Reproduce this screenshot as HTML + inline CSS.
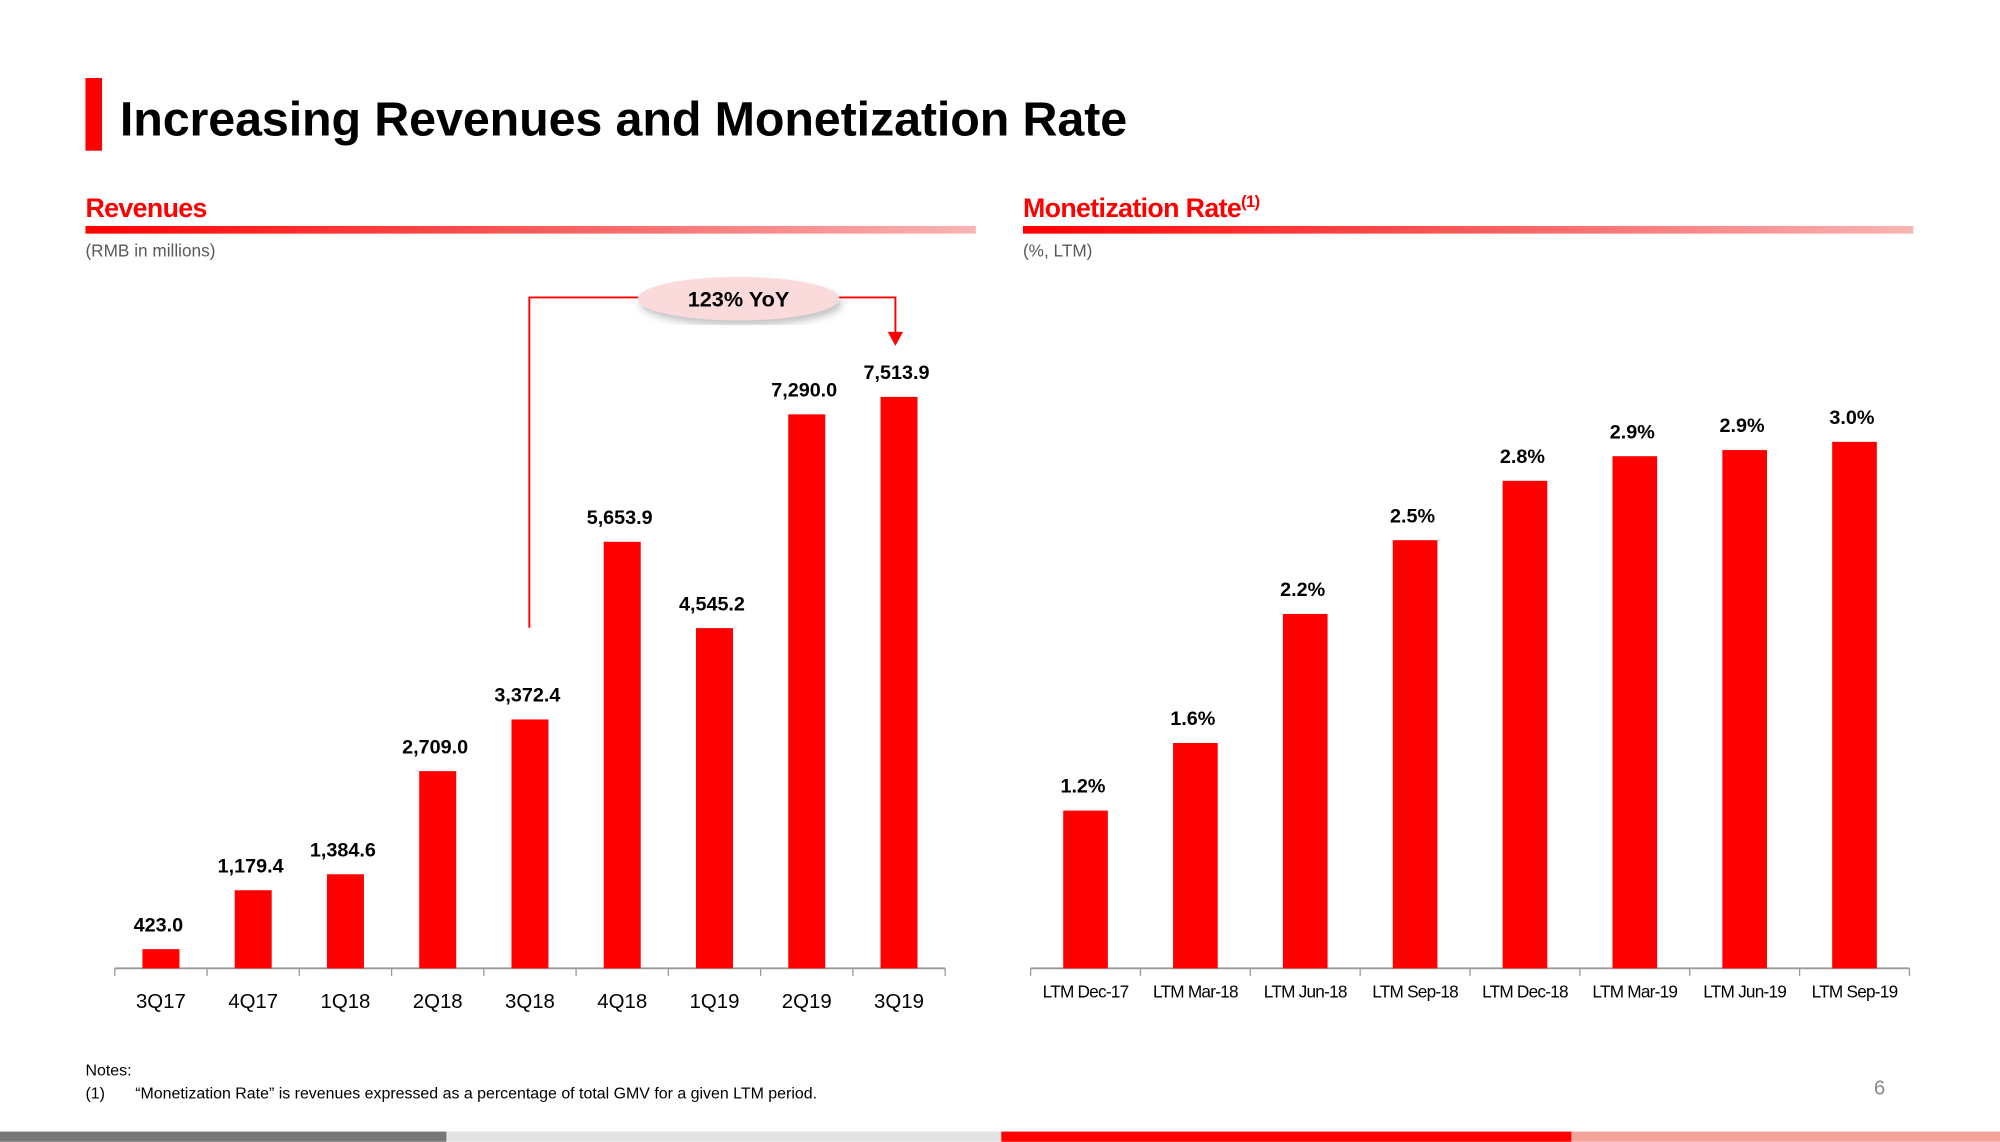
<!DOCTYPE html>
<html><head><meta charset="utf-8"><style>
html,body{margin:0;padding:0;background:#fff}
svg{display:block}
text{font-family:"Liberation Sans",sans-serif}
</style></head><body>
<svg width="2000" height="1142" viewBox="0 0 1568 895">
<defs>
<linearGradient id="gr" x1="0" x2="1"><stop offset="0" stop-color="#f00"/><stop offset="1" stop-color="#f8b4b4"/></linearGradient>
<filter id="sh"><feDropShadow dx="2" dy="4" stdDeviation="3" flood-color="#888" flood-opacity="0.5"/></filter>
</defs>
<rect x="67" y="61" width="13" height="57" fill="#f00"/>
<text x="94" y="106" font-size="38" font-weight="bold" letter-spacing="-0.1">Increasing Revenues and Monetization Rate</text>

<text x="67" y="170" font-size="21" font-weight="bold" fill="#f00" letter-spacing="-0.5">Revenues</text>
<rect x="67" y="177" width="698" height="6" fill="url(#gr)"/>
<text x="67" y="201" font-size="13.5" fill="#595959">(RMB in millions)</text>

<text x="802" y="170" font-size="21" font-weight="bold" fill="#f00" letter-spacing="-0.5">Monetization Rate<tspan font-size="13" dy="-8">(1)</tspan></text>
<rect x="802" y="177" width="698" height="6" fill="url(#gr)"/>
<text x="802" y="201" font-size="13.5" fill="#595959">(%, LTM)</text>

<g id="left"></g>
<g id="right"></g>

<g>
<polyline points="415,492 415,233 505,233" fill="none" stroke="#f00" stroke-width="1.5"/>
<polyline points="655,233 702,233 702,262" fill="none" stroke="#f00" stroke-width="1.5"/>
<polygon points="696,260 708,260 702,271" fill="#f00"/>
<ellipse cx="579" cy="234" rx="79" ry="17" fill="#fadadb" filter="url(#sh)"/>
<text x="579" y="240" font-size="17" font-weight="bold" text-anchor="middle">123% YoY</text>
</g>

<text x="67" y="843" font-size="12.5">Notes:</text>
<text x="67" y="861" font-size="12.5">(1)</text>
<text x="106" y="861" font-size="12.5">“Monetization Rate” is revenues expressed as a percentage of total GMV for a given LTM period.</text>
<text x="1478" y="858" font-size="16" fill="#888" text-anchor="end">6</text>

<rect x="0" y="887" width="350" height="8" fill="#777"/>
<rect x="350" y="887" width="435" height="8" fill="#e3e3e3"/>
<rect x="785" y="887" width="447" height="8" fill="#f00"/>
<rect x="1232" y="887" width="336" height="8" fill="#f4a39a"/>
</svg>
<script>
const revCats=["3Q17","4Q17","1Q18","2Q18","3Q18","4Q18","1Q19","2Q19","3Q19"];
const revVals=[423.0,1179.4,1384.6,2709.0,3372.4,5653.9,4545.2,7290.0,7513.9];
const revLabels=["423.0","1,179.4","1,384.6","2,709.0","3,372.4","5,653.9","4,545.2","7,290.0","7,513.9"];
const monCats=["LTM Dec-17","LTM Mar-18","LTM Jun-18","LTM Sep-18","LTM Dec-18","LTM Mar-19","LTM Jun-19","LTM Sep-19"];
const monVals=[1.2,1.53,2.16,2.52,2.81,2.93,2.96,3.0];
const monLabels=["1.2%","1.6%","2.2%","2.5%","2.8%","2.9%","2.9%","3.0%"];
const NS="http://www.w3.org/2000/svg";
function mk(tag,attrs,parent){const e=document.createElementNS(NS,tag);for(const k in attrs)e.setAttribute(k,attrs[k]);parent.appendChild(e);return e;}
function chart(g,cats,vals,labels,x0,x1,yBase,ymin,scale,bw,catSize,catY,nm){
  const step=(x1-x0)/cats.length;
  const ax=mk('line',{x1:x0,x2:x1,y1:yBase,y2:yBase,stroke:'#999','stroke-width':1.5},g);
  
  
  for(let i=0;i<=cats.length;i++){
    const t=mk('line',{x1:x0+i*step,x2:x0+i*step,y1:yBase,y2:yBase+6,stroke:'#999'},g);
    
    
  }
  cats.forEach((c,i)=>{
    const cx=x0+(i+0.5)*step;
    const y=yBase-(vals[i]-ymin)*scale;
    const r=mk('rect',{x:cx-bw/2,y:y,width:bw,height:yBase-y,fill:'#f00'},g);
    
    
    const l=mk('text',{x:cx-2,y:y-14,'font-size':15.5,'font-weight':'bold','text-anchor':'middle'},g);
    l.textContent=labels[i];
    
    
    const t=mk('text',{x:cx,y:catY,'font-size':catSize,'text-anchor':'middle','letter-spacing':catSize<15?-0.6:0},g);
    t.textContent=c;
    
    
  });
}
chart(document.getElementById('left'),revCats,revVals,revLabels,90,741,759,177,0.06106,29,16,790,'revenue');
chart(document.getElementById('right'),monCats,monVals,monLabels,808,1497,759,0.43,160.6,35,13.5,782,'monetization');
</script>
</body></html>
